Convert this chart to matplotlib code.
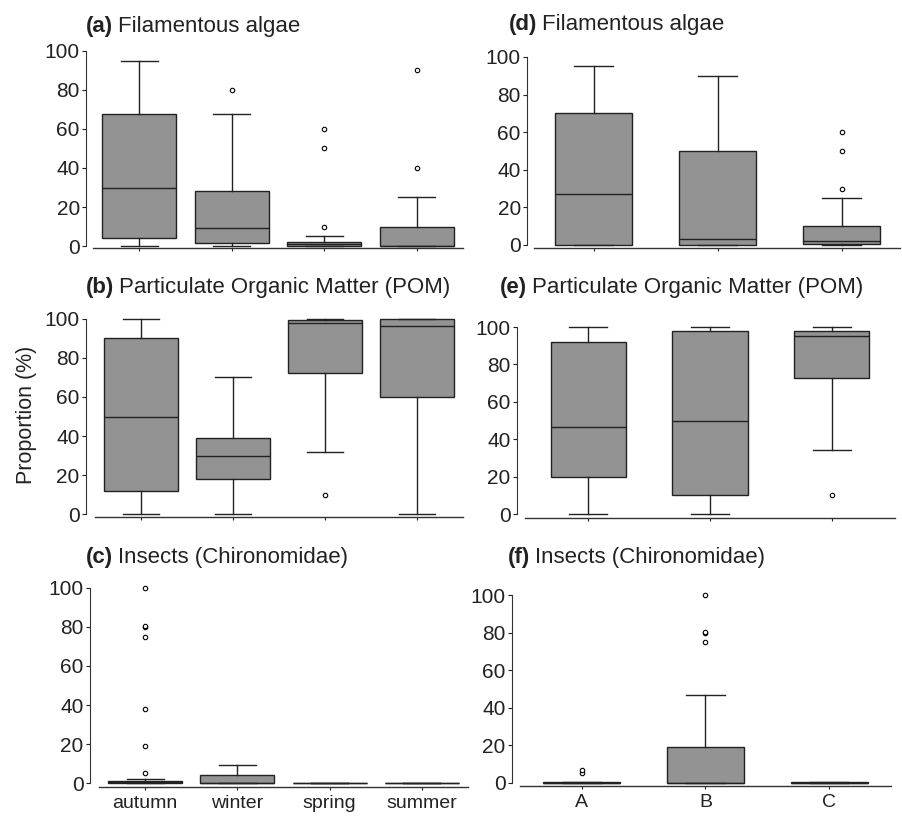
import matplotlib as mpl
mpl.use('Agg')
import matplotlib.pyplot as plt

plt.rcParams['font.family'] = ['Liberation Sans', 'DejaVu Sans']

seasons = ['autumn', 'winter', 'spring', 'summer']
sites = ['A', 'B', 'C']

# box stats per group: (whislo, q1, med, q3, whishi, fliers)
algae_season = [
    (0, 4, 30, 67.5, 95, []),
    (0, 1.5, 9, 28, 67.5, [80]),
    (0, 0, 1, 2, 5, [10, 50, 60]),
    (0, 0, 0, 10, 25, [40, 90]),
]
pom_season = [
    (0, 12, 50, 90, 100, []),
    (0, 18, 30, 39, 70, []),
    (32, 72.5, 98, 99.5, 100, [10]),
    (0, 60, 96.5, 100, 100, []),
]
insects_season = [
    (0, 0, 0.5, 1, 2, [5, 19, 38, 75, 80, 80.3, 100]),
    (0, 0, 0, 4, 9.5, []),
    (0, 0, 0, 0, 0, []),
    (0, 0, 0, 0, 0, []),
]
algae_site = [
    (0, 0, 27, 70, 95, []),
    (0, 0, 3, 50, 90, []),
    (0, 0.5, 2, 10, 25, [30, 50, 60]),
]
pom_site = [
    (0, 20, 46.5, 92, 100, []),
    (0, 10, 50, 98, 100, []),
    (34, 72.5, 95, 98, 100, [10]),
]
insects_site = [
    (0, 0, 0, 0.3, 0.5, [5.5, 7]),
    (0, 0, 0, 19, 47, [75, 80, 80.3, 100]),
    (0, 0, 0, 0.3, 0.5, []),
]

W, H = 903, 817
fig = plt.figure(figsize=(W / 100, H / 100), dpi=100)

face = '#939393'
edge = '#222222'


def to_stats(groups):
    out = []
    for lo, q1, med, q3, hi, fl in groups:
        out.append({'whislo': lo, 'q1': q1, 'med': med, 'q3': q3,
                    'whishi': hi, 'fliers': fl})
    return out


def make_panel(rect, ylim, xlim, groups, labels, width, capw, outward):
    x0, y0, x1, y1 = rect
    ax = fig.add_axes([x0 / W, 1 - y1 / H, (x1 - x0) / W, (y1 - y0) / H])
    n = len(groups)
    ax.bxp(to_stats(groups), positions=range(1, n + 1), widths=width,
           capwidths=capw, patch_artist=True, showfliers=True,
           boxprops=dict(facecolor=face, edgecolor=edge, linewidth=1.0),
           medianprops=dict(color=edge, linewidth=1.0),
           whiskerprops=dict(color=edge, linewidth=1.0),
           capprops=dict(color=edge, linewidth=1.0),
           flierprops=dict(marker='o', markersize=3.2, markerfacecolor='white',
                           markeredgecolor='black', markeredgewidth=0.8))
    ax.set_xlim(*xlim)
    ax.set_ylim(*ylim)
    for s in ['top', 'right']:
        ax.spines[s].set_visible(False)
    ax.spines['left'].set_bounds(0, 100)
    ax.spines['left'].set_position(('outward', outward))
    ax.spines['left'].set_color('#333333')
    ax.spines['bottom'].set_color('#333333')
    ax.spines['left'].set_linewidth(0.8)
    ax.spines['bottom'].set_linewidth(1.0)
    ax.set_yticks([0, 20, 40, 60, 80, 100])
    ax.tick_params(axis='y', length=3, width=0.8, pad=1.5, labelsize=15,
                   colors='#222222')
    ax.tick_params(axis='x', length=2.5, width=0.8, pad=3, labelsize=14,
                   colors='#222222')
    if labels is None:
        ax.set_xticklabels([])
    else:
        ax.set_xticklabels(labels)
    ax.patch.set_visible(False)
    return ax


make_panel((93, 48, 463, 248), (-1.0, 101.5), (0.5, 4.5), algae_season, None, 0.8, 0.4, 5)
make_panel((95, 316, 463, 517), (-1.5, 101.5), (0.5, 4.5), pom_season, None, 0.8, 0.4, 6.5)
make_panel((99, 585, 468, 787), (-2.0, 101.5), (0.5, 4.5), insects_season, seasons, 0.8, 0.4, 6.5)
make_panel((534, 53, 900, 248), (-1.6, 102.1), (0.52, 3.47), algae_site, None, 0.62, 0.31, 5)
make_panel((525, 322, 895, 518), (-2.1, 102.7), (0.48, 3.52), pom_site, None, 0.62, 0.31, 6)
make_panel((520, 590, 891, 786), (-1.6, 102.7), (0.5, 3.5), insects_site, sites, 0.62, 0.31, 6)

titles = [
    ('(a)', 'Filamentous algae', 86, 32),
    ('(b)', 'Particulate Organic Matter (POM)', 86, 293),
    ('(c)', 'Insects (Chironomidae)', 86, 563),
    ('(d)', 'Filamentous algae', 509, 30),
    ('(e)', 'Particulate Organic Matter (POM)', 500, 293),
    ('(f)', 'Insects (Chironomidae)', 508, 563),
]
fig.canvas.draw()
renderer = fig.canvas.get_renderer()
for tag, name, px, py in titles:
    t = fig.text(px / W, 1 - py / H, tag, fontsize=16, fontweight='bold',
                 ha='left', va='baseline', color='#222222')
    bb = t.get_window_extent(renderer=renderer)
    fig.text((bb.x1 + 5) / W, 1 - py / H, name, fontsize=16,
             ha='left', va='baseline', color='#222222')

fig.text(27 / W, 1 - 415 / H, 'Proportion (%)', rotation=90, fontsize=15.5,
         ha='center', va='center', color='#222222')

fig.savefig('out.png', dpi=100)
